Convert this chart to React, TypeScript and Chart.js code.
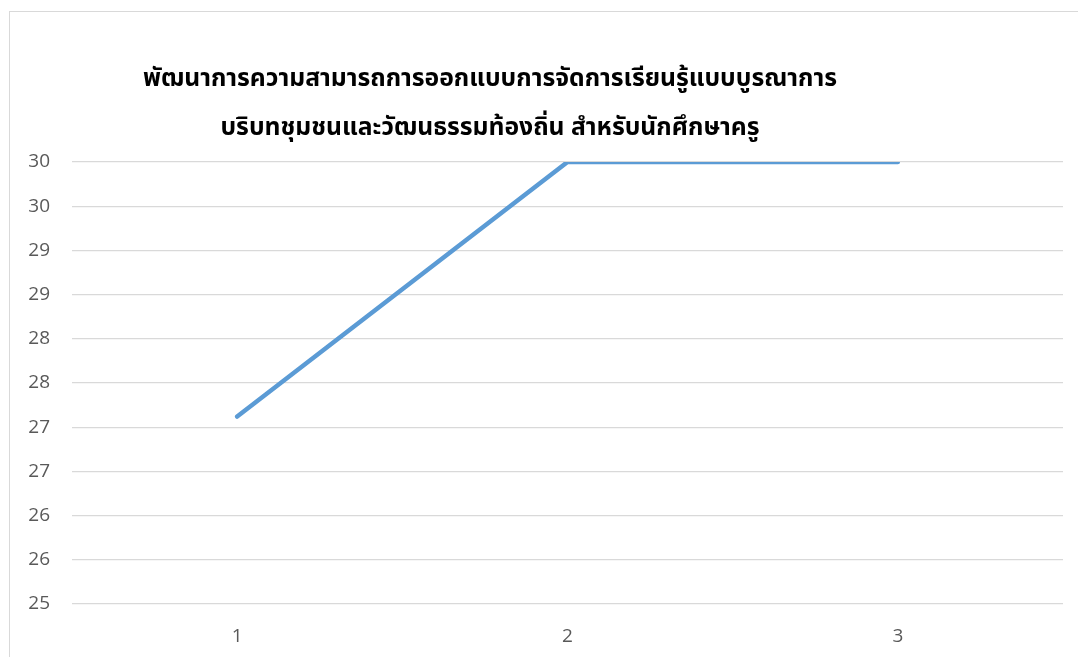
import React, { useEffect, useRef } from "react";
import { Chart, registerables } from "chart.js";

Chart.register(...registerables);

const categories = ["1", "2", "3"];
const seriesValues = [27.12, 30, 30];
const titleLines = [
  "พัฒนาการความสามารถการออกแบบการจัดการเรียนรู้แบบบูรณาการ",
  "บริบทชุมชนและวัฒนธรรมท้องถิ่น สำหรับนักศึกษาครู",
];
const yMin = 25;
const yMax = 30;
const yStep = 0.5;

export default function App() {
  const ref = useRef<HTMLCanvasElement | null>(null);

  useEffect(() => {
    document.body.style.margin = "0";
    if (!ref.current) return;
    const chart = new Chart(ref.current, {
      type: "line",
      data: {
        labels: categories,
        datasets: [
          {
            data: seriesValues,
            borderColor: "#5B9BD5",
            borderWidth: 4.5,
            pointRadius: 0,
            pointHoverRadius: 0,
            borderCapStyle: "round",
            borderJoinStyle: "round",
            tension: 0,
            fill: false,
          },
        ],
      },
      options: {
        animation: false,
        responsive: false,
        maintainAspectRatio: false,
        layout: { padding: { left: 0, right: 15, top: 162, bottom: 0 } },
        plugins: {
          legend: { display: false },
          title: { display: false },
          tooltip: { enabled: false },
        },
        scales: {
          x: {
            offset: true,
            grid: { display: false, drawTicks: false },
            border: { display: false },
            ticks: {
              color: "#595959",
              padding: 21,
              font: { family: "'Open Sans', sans-serif", size: 19 },
            },
            afterFit: (s: any) => {
              s.height = 53;
            },
          },
          y: {
            min: yMin,
            max: yMax,
            grid: { color: "#d9d9d9", lineWidth: 1.3, drawTicks: false },
            border: { display: false },
            ticks: {
              stepSize: yStep,
              color: "#595959",
              padding: 22,
              font: { family: "'Open Sans', sans-serif", size: 19 },
              callback: (v: any) => String(Math.round(Number(v))),
            },
            afterFit: (s: any) => {
              s.width = 72;
            },
          },
        },
      },
    });
    return () => chart.destroy();
  }, []);

  return (
    <div style={{ position: "relative", width: 1078, height: 657, overflow: "hidden", background: "#fff" }}>
      <div
        style={{
          position: "absolute",
          left: 9,
          top: 11,
          width: 1200,
          height: 800,
          border: "1.5px solid #d9d9d9",
          boxSizing: "border-box",
        }}
      />
      <canvas ref={ref} width={1078} height={657} style={{ position: "absolute", left: 0, top: 0, width: 1078, height: 657 }} />
      <div
        style={{
          position: "absolute",
          left: 90,
          width: 800,
          top: 54,
          textAlign: "center",
          fontFamily: "'Noto Sans Thai', 'Noto Sans', 'DejaVu Sans', sans-serif",
          fontWeight: "bold",
          fontSize: 24.7,
          lineHeight: "49px",
          color: "#000",
        }}
      >
        {titleLines.map((t, i) => (
          <div key={i}>{t}</div>
        ))}
      </div>
    </div>
  );
}
